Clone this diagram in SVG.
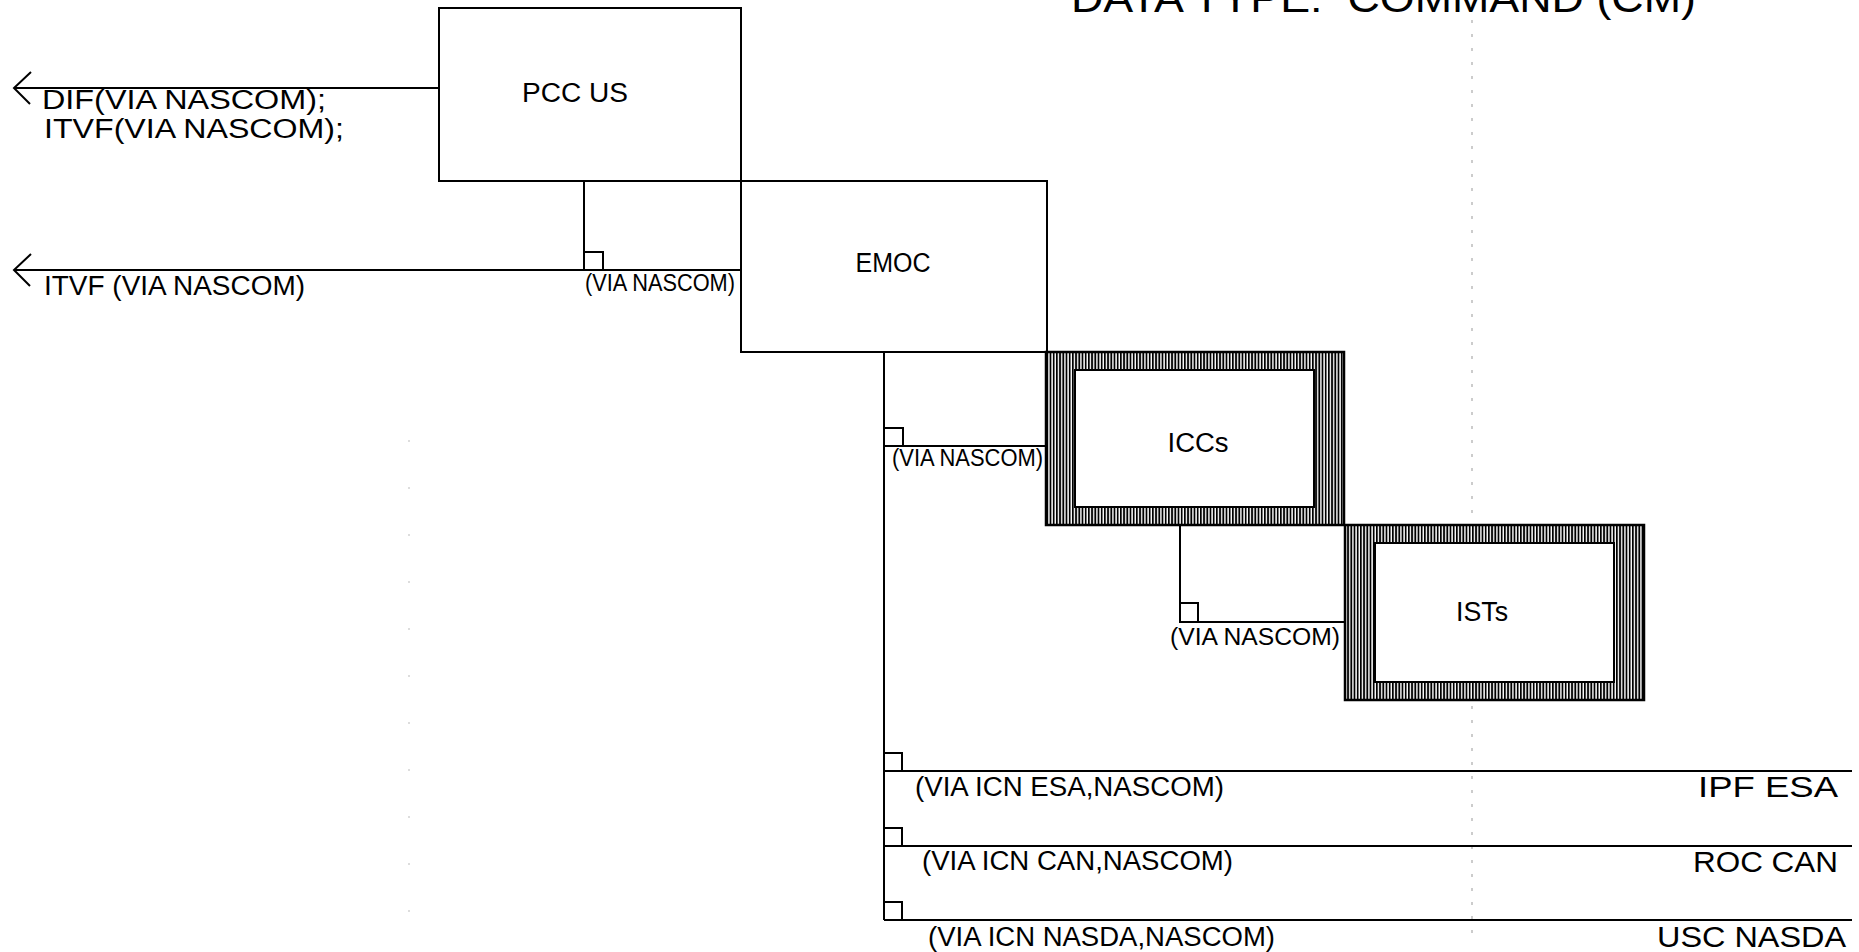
<svg xmlns="http://www.w3.org/2000/svg" width="1859" height="952" viewBox="0 0 1859 952">
<defs>
<pattern id="hatch" patternUnits="userSpaceOnUse" width="3.2" height="10">
<rect x="0" y="0" width="3.2" height="10" fill="#fff"/>
<rect x="0" y="0" width="1.8" height="10" fill="#000"/>
</pattern>
<style>
.ln{stroke:#000;stroke-width:2;fill:none}
.box{fill:#fff;stroke:#000;stroke-width:2}
.t{font-family:"Liberation Sans",Arial,sans-serif;fill:#000}
.lbl{font-size:27px}
.sm{font-size:23px}
.big{font-size:30px}
.dot{stroke:#999;stroke-width:1;stroke-dasharray:3 11;fill:none}
</style>
</defs>
<rect width="1859" height="952" fill="#fff"/>
<g id="artifacts">
<line class="dot" x1="1472" y1="20" x2="1472" y2="940"/>
<line x1="409" y1="440" x2="409" y2="948" stroke="#bbb" stroke-width="1" stroke-dasharray="2 45"/>
</g>
<g id="title">
<text class="t" x="1071" y="12" font-size="40" textLength="625" lengthAdjust="spacingAndGlyphs" xml:space="preserve">DATA TYPE:  COMMAND (CM)</text>
</g>
<g id="connectors">
<path class="ln" d="M14,88 H439"/>
<path class="ln" d="M31,72 L14,88 L30,104"/>
<path class="ln" d="M14,270 H741"/>
<path class="ln" d="M31,254 L14,270 L30,286"/>
<path class="ln" d="M584,181 V270"/>
<path class="ln" d="M584,252 H603 V270"/>
<path class="ln" d="M884,352 V920"/>
<path class="ln" d="M884,446 H1046"/>
<path class="ln" d="M884,428 H903 V446"/>
<path class="ln" d="M1180,525 V622 H1345"/>
<path class="ln" d="M1180,603 H1198 V622"/>
<path class="ln" d="M884,771 H1852"/>
<path class="ln" d="M884,753 H902 V771"/>
<path class="ln" d="M884,846 H1852"/>
<path class="ln" d="M884,828 H902 V846"/>
<path class="ln" d="M884,920 H1852"/>
<path class="ln" d="M884,902 H902 V920"/>
</g>
<g id="labels">
<text class="t lbl" x="42" y="109" textLength="284" lengthAdjust="spacingAndGlyphs">DIF(VIA NASCOM);</text>
<text class="t lbl" x="44" y="138" textLength="300" lengthAdjust="spacingAndGlyphs">ITVF(VIA NASCOM);</text>
<text class="t lbl" x="44" y="295" textLength="261" lengthAdjust="spacingAndGlyphs">ITVF (VIA NASCOM)</text>
<text class="t sm" x="585" y="291" textLength="150" lengthAdjust="spacingAndGlyphs">(VIA NASCOM)</text>
<text class="t sm" x="892" y="466" textLength="151" lengthAdjust="spacingAndGlyphs">(VIA NASCOM)</text>
<text class="t sm" x="1170" y="645" textLength="170" lengthAdjust="spacingAndGlyphs">(VIA NASCOM)</text>
<text class="t lbl" x="915" y="796" textLength="309" lengthAdjust="spacingAndGlyphs">(VIA ICN ESA,NASCOM)</text>
<text class="t lbl" x="922" y="870" textLength="311" lengthAdjust="spacingAndGlyphs">(VIA ICN CAN,NASCOM)</text>
<text class="t lbl" x="928" y="946" textLength="347" lengthAdjust="spacingAndGlyphs">(VIA ICN NASDA,NASCOM)</text>
</g>
<g id="node-pcc-us">
<rect class="box" x="439" y="8" width="302" height="173"/>
<text class="t lbl" x="575" y="102" text-anchor="middle" textLength="106" lengthAdjust="spacingAndGlyphs">PCC US</text>
</g>
<g id="node-emoc">
<rect class="box" x="741" y="181" width="306" height="171"/>
<text class="t lbl" x="893" y="272" text-anchor="middle" textLength="75" lengthAdjust="spacingAndGlyphs">EMOC</text>
</g>
<g id="node-iccs">
<rect x="1046" y="352" width="298" height="173" fill="url(#hatch)" stroke="#000" stroke-width="2.5"/>
<rect class="box" x="1075" y="370" width="239" height="137"/>
<text class="t lbl" x="1198" y="452" text-anchor="middle" textLength="61" lengthAdjust="spacingAndGlyphs">ICCs</text>
</g>
<g id="node-ists">
<rect x="1345" y="525" width="299" height="175" fill="url(#hatch)" stroke="#000" stroke-width="2.5"/>
<rect class="box" x="1375" y="543" width="239" height="139"/>
<text class="t lbl" x="1482" y="621" text-anchor="middle" textLength="52" lengthAdjust="spacingAndGlyphs">ISTs</text>
</g>
<g id="node-ipf-esa">
<text class="t big" x="1838" y="797" text-anchor="end" textLength="140" lengthAdjust="spacingAndGlyphs">IPF ESA</text>
</g>
<g id="node-roc-can">
<text class="t big" x="1838" y="872" text-anchor="end" textLength="145" lengthAdjust="spacingAndGlyphs">ROC CAN</text>
</g>
<g id="node-usc-nasda">
<text class="t big" x="1846" y="947" text-anchor="end" textLength="189" lengthAdjust="spacingAndGlyphs">USC NASDA</text>
</g>
</svg>
